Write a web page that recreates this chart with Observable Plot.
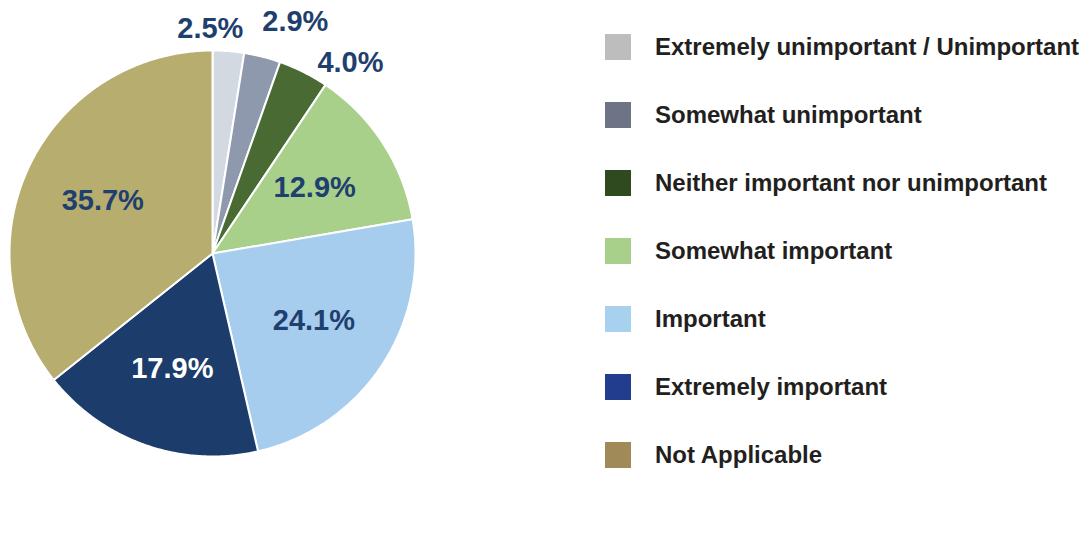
<!DOCTYPE html>
<html>
<head>
<meta charset="utf-8">
<script src="https://cdn.jsdelivr.net/npm/d3@7"></script>
<script src="https://cdn.jsdelivr.net/npm/@observablehq/plot@0.6"></script>
<style>
  html, body { margin: 0; padding: 0; background: #fff; }
  #wrap { position: relative; width: 1086px; height: 535px; overflow: hidden; font-family: "Liberation Sans", Arial, sans-serif; }
  #chart { position: absolute; left: 0; top: 0; }
  #legend { position: absolute; left: 605px; top: 34px; }
  .row { display: flex; align-items: center; height: 26px; margin-bottom: 42px; }
  .sw { width: 26px; height: 26px; margin-right: 24px; flex: none; }
  .lab { font-size: 24px; font-weight: bold; color: #231f20; white-space: nowrap; }
</style>
</head>
<body>
<div id="wrap">
  <div id="chart"></div>
  <div id="legend"></div>
</div>
<script>
const categories = [
  "Extremely unimportant / Unimportant",
  "Somewhat unimportant",
  "Neither important nor unimportant",
  "Somewhat important",
  "Important",
  "Extremely important",
  "Not Applicable"
];
const values = [2.5, 2.9, 4.0, 12.9, 24.1, 17.9, 35.7];
const valueLabels = ["2.5%", "2.9%", "4.0%", "12.9%", "24.1%", "17.9%", "35.7%"];
const sliceColors = ["#d3d9e1", "#8e99ad", "#4a6a34", "#a9d08b", "#a7cdee", "#1c3d6b", "#b6ad6e"];
const legendColors = ["#bdbdbd", "#6f7386", "#2f4a1f", "#a8d08a", "#a8d1f0", "#223d8e", "#a08a58"];

// style: pixel nudges for the small outside labels so they do not collide
const outerNudge = [[-20, 2], [27, -11], [36, 12]];

// Build slice polygons (clockwise from 12 o'clock)
const total = d3.sum(values);
const polys = [];
const labelsData = [];
let acc = 0, outerCount = 0;
values.forEach((v, i) => {
  const a0 = acc / total * 2 * Math.PI;
  const a1 = (acc + v) / total * 2 * Math.PI;
  acc += v;
  polys.push({cat: categories[i], x: 0, y: 0});
  const n = Math.max(2, Math.ceil((a1 - a0) / (Math.PI / 360)));
  for (let k = 0; k <= n; k++) {
    const a = a0 + (a1 - a0) * k / n;
    polys.push({cat: categories[i], x: Math.sin(a), y: Math.cos(a)});
  }
  const am = (a0 + a1) / 2;
  const outer = v < 5;
  const r = outer ? 1.12 : 0.6;
  const nudge = outer ? outerNudge[outerCount++] || [0, 0] : [0, 0];
  labelsData.push({
    text: valueLabels[i],
    x: r * Math.sin(am),
    y: r * Math.cos(am),
    dx: nudge[0],
    dy: nudge[1],
    white: categories[i] === "Extremely important"
  });
});

const W = 560, H = 535, R = 203, CX = 212, CY = 253;
const font = "Liberation Sans, Arial, sans-serif";

const labelMarks = labelsData.map(d =>
  Plot.text([d], {x: "x", y: "y", text: "text", dx: d.dx, dy: d.dy,
    fill: d.white ? "white" : "#1f3f6e", fontSize: 29, fontWeight: "bold", fontFamily: font})
);

const chart = Plot.plot({
  width: W,
  height: H,
  margin: 0,
  x: {domain: [-CX / R, (W - CX) / R], axis: null},
  y: {domain: [-(H - CY) / R, CY / R], axis: null},
  color: {domain: categories, range: sliceColors},
  marks: [
    Plot.line(polys, {x: "x", y: "y", z: "cat", fill: "cat", stroke: "white", strokeWidth: 2, curve: "linear-closed"}),
    ...labelMarks
  ]
});
document.getElementById("chart").appendChild(chart);

const legend = document.getElementById("legend");
categories.forEach((c, i) => {
  const row = document.createElement("div");
  row.className = "row";
  const sw = document.createElement("div");
  sw.className = "sw";
  sw.style.background = legendColors[i];
  const lab = document.createElement("div");
  lab.className = "lab";
  lab.textContent = c;
  row.appendChild(sw);
  row.appendChild(lab);
  legend.appendChild(row);
});
</script>
</body>
</html>
